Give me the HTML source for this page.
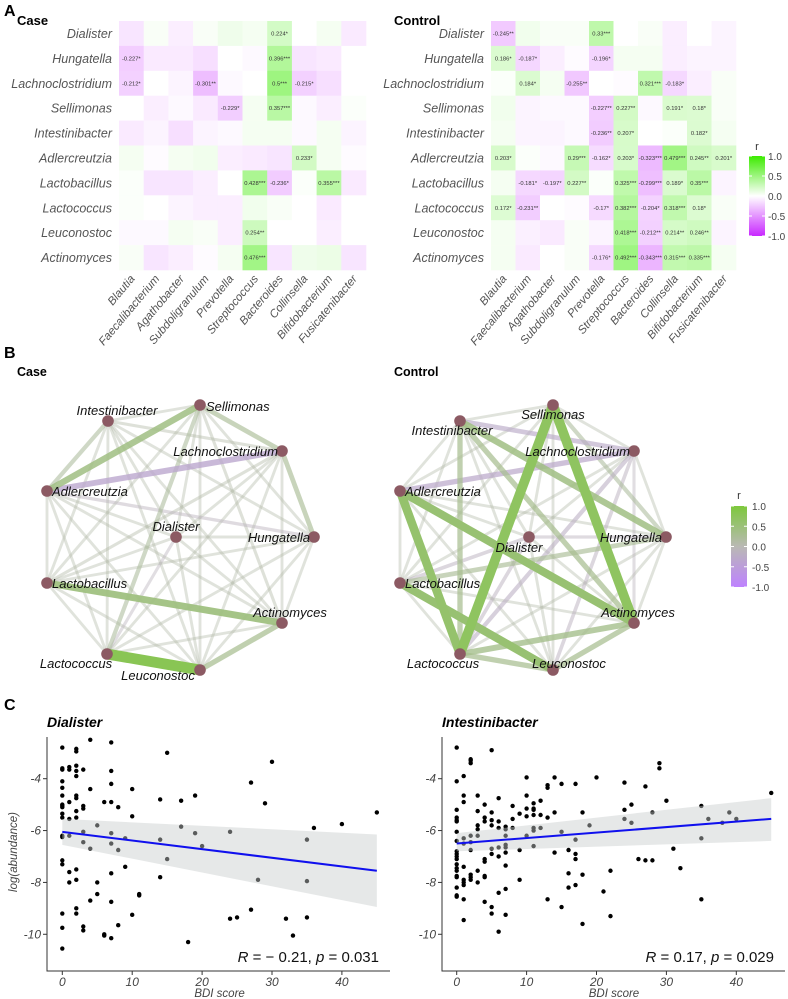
<!DOCTYPE html>
<html><head><meta charset="utf-8"><style>
html,body{margin:0;padding:0;background:#fff;}
svg{display:block;font-family:"Liberation Sans",sans-serif;}
</style></head><body>
<svg id="fig" width="788" height="999" viewBox="0 0 788 999" xmlns="http://www.w3.org/2000/svg"></svg>
<script>
// ---------- DATA ----------
const genusRows = ["Dialister","Hungatella","Lachnoclostridium","Sellimonas","Intestinibacter","Adlercreutzia","Lactobacillus","Lactococcus","Leuconostoc","Actinomyces"];
const genusCols = ["Blautia","Faecalibacterium","Agathobacter","Subdoligranulum","Prevotella","Streptococcus","Bacteroides","Collinsella","Bifidobacterium","Fusicatenibacter"];
const caseR = [
[-0.12,0.03,-0.08,0.03,0.08,0.05,0.224,0.0,0.05,-0.1],
[-0.227,-0.1,-0.1,-0.15,0.0,-0.03,0.396,-0.12,-0.1,0.0],
[-0.212,0.0,-0.05,-0.301,-0.03,0.0,0.5,-0.215,-0.15,0.0],
[0.0,-0.08,-0.03,-0.1,-0.229,0.05,0.357,-0.03,-0.08,0.02],
[-0.1,-0.05,-0.15,-0.05,-0.03,0.05,0.05,-0.03,0.05,-0.05],
[0.05,-0.02,0.05,0.07,-0.08,-0.1,-0.12,0.233,0.05,-0.02],
[0.02,-0.12,-0.12,-0.08,0.0,0.428,-0.236,0.02,0.355,-0.1],
[0.02,0.0,-0.05,-0.08,-0.08,0.07,0.03,0.0,-0.1,0.0],
[-0.03,-0.03,0.05,0.03,-0.08,0.254,0.0,0.0,-0.08,0.0],
[0.03,-0.12,-0.08,-0.02,0.05,0.476,-0.12,0.08,0.1,-0.12]];
const controlR = [
[-0.245,0.07,0.03,0.03,0.33,0.0,0.03,-0.08,0.0,-0.05],
[0.186,-0.187,-0.08,-0.02,-0.196,0.05,0.05,-0.08,-0.05,-0.05],
[0.02,0.184,0.05,-0.255,0.0,-0.02,0.321,-0.183,-0.08,0.03],
[0.07,-0.05,-0.03,-0.03,-0.227,0.227,-0.03,0.191,0.18,0.03],
[0.05,-0.05,-0.05,-0.03,-0.236,0.207,0.0,0.02,0.182,0.05],
[0.203,0.02,-0.03,0.29,-0.162,0.203,-0.323,0.479,0.245,0.201],
[0.05,-0.181,-0.197,0.227,0.02,0.325,-0.299,0.189,0.35,-0.05],
[0.172,-0.231,0.0,-0.02,-0.17,0.382,-0.204,0.318,0.18,0.03],
[0.05,-0.07,-0.1,0.03,-0.05,0.418,-0.212,0.214,0.246,-0.05],
[0.05,-0.1,0.0,0.03,-0.176,0.492,-0.343,0.315,0.335,0.05]];
const caseStars = [[0,6,"*"],[1,0,"*"],[1,6,"***"],[2,0,"*"],[2,3,"**"],[2,6,"***"],[2,7,"*"],[3,4,"*"],[3,6,"***"],[5,7,"*"],[6,5,"***"],[6,6,"*"],[6,8,"***"],[8,5,"**"],[9,5,"***"]];
const controlStars = [[0,0,"**"],[0,4,"***"],[1,0,"*"],[1,1,"*"],[1,4,"*"],[2,1,"*"],[2,3,"**"],[2,6,"***"],[2,7,"*"],[3,4,"**"],[3,5,"**"],[3,7,"*"],[3,8,"*"],[4,4,"**"],[4,5,"*"],[4,8,"*"],[5,0,"*"],[5,3,"***"],[5,4,"*"],[5,5,"*"],[5,6,"***"],[5,7,"***"],[5,8,"**"],[5,9,"*"],[6,1,"*"],[6,2,"*"],[6,3,"**"],[6,5,"***"],[6,6,"***"],[6,7,"*"],[6,8,"***"],[7,0,"*"],[7,1,"**"],[7,4,"*"],[7,5,"***"],[7,6,"*"],[7,7,"***"],[7,8,"*"],[8,5,"***"],[8,6,"**"],[8,7,"**"],[8,8,"**"],[9,4,"*"],[9,5,"***"],[9,6,"***"],[9,7,"***"],[9,8,"***"]];
const legendTicks = [1.0,0.5,0.0,-0.5,-1.0];

// network: node order
const netNodes = ["Sellimonas","Intestinibacter","Lachnoclostridium","Adlercreutzia","Dialister","Hungatella","Lactobacillus","Actinomyces","Lactococcus","Leuconostoc"];
const caseEdges = [[8,9,0.8],[6,7,0.45],[3,0,0.4],[3,2,-0.35],[0,2,0.25],[2,5,0.25],[7,9,0.3],[1,3,0.2],[0,8,0.2],[3,5,-0.12],[1,2,0.1],[2,6,0.1],[0,7,0.1],[4,8,-0.1]];
const controlEdges = [[0,8,0.7],[0,7,0.7],[3,8,0.6],[3,7,0.55],[6,9,0.55],[1,5,0.4],[1,2,-0.25],[3,2,-0.3],[1,8,0.3],[8,7,0.35],[8,9,0.3],[9,7,0.3],[6,5,0.25],[1,7,0.3],[0,5,0.2],[2,8,-0.2],[4,8,-0.15],[2,9,-0.15],[4,5,-0.12],[6,4,-0.15],[2,7,-0.1]];
const netDefault = 0.08;

// scatter data (BDI score groups, log abundance values)
const dialisterBDI = [0,1,2,3,4,5,6,7,8,9,10,11,14,15,17,18,19,20,24,25,27,28,29,30,32,33,35,36,40,45];
const dialisterAbund = [
[-2.8,-3.6,-3.65,-4.1,-4.35,-4.65,-5.0,-5.05,-5.1,-5.35,-5.5,-6.2,-6.25,-7.15,-7.3,-9.2,-9.75,-10.55],
[-3.55,-3.65,-4.9,-5.55,-6.2,-7.6,-8.0],
[-2.85,-2.95,-3.5,-3.7,-3.9,-4.65,-4.75,-5.25,-5.5,-7.5,-7.9,-9.0,-9.2],
[-3.65,-5.05,-5.15,-6.05,-6.45,-9.7,-9.85],
[-2.5,-4.4,-6.7,-8.7],[-5.8,-8.0,-8.45],[-4.9,-10.0,-10.05],
[-2.6,-3.7,-4.2,-4.9,-6.1,-6.5,-7.65,-8.75,-10.15],
[-5.1,-6.75,-9.65],[-6.3,-7.4],[-4.4,-5.45,-9.25],[-8.45,-8.5],
[-4.8,-6.35,-7.8],[-3.0,-7.1],[-4.85,-5.85],[-10.3],[-4.65,-6.1],[-6.6],
[-6.05,-9.4],[-9.35],[-4.15,-9.05],[-7.9],[-4.95],[-3.35],[-9.4],[-10.05],
[-6.35,-7.95,-9.35],[-5.9],[-5.75],[-5.3]];
const intestiniBDI = [0,1,2,3,4,5,6,7,8,9,10,11,12,13,14,15,16,17,18,19,20,21,22,24,25,26,27,28,29,30,31,32,35,36,38,39,40,45];
const intestiniAbund = [
[-2.8,-4.1,-5.2,-5.5,-5.6,-5.65,-6.05,-6.4,-6.8,-6.9,-7.0,-7.1,-7.3,-7.45,-7.55,-7.75,-7.8,-8.2,-8.5,-8.55],
[-3.9,-4.65,-4.9,-6.3,-6.5,-7.4,-7.9,-8.0,-8.1,-8.65,-9.45],
[-3.25,-3.3,-3.4,-6.2,-6.45,-6.75,-7.7,-7.8,-7.9],
[-4.65,-5.25,-5.8,-5.95,-6.2,-7.55,-8.0],
[-5.0,-5.5,-5.65,-7.1,-7.2,-7.75,-7.8,-8.75],
[-2.9,-5.3,-5.6,-5.8,-6.7,-6.9,-8.95,-9.2],
[-4.75,-5.65,-5.9,-6.65,-7.0,-8.4,-9.9],
[-5.85,-5.95,-6.2,-6.55,-6.65,-6.85,-7.35,-8.25,-9.25],
[-5.05,-5.55,-5.9],[-5.35,-6.75,-7.9],[-3.95,-4.65,-5.15,-5.45,-6.2],
[-4.95,-5.15,-5.2,-5.4,-5.9,-6.0,-6.6],[-4.85,-5.4,-5.9],[-4.25,-4.35,-5.5,-8.65],
[-3.95,-5.3,-6.85],[-4.2,-6.05,-8.95],[-6.75,-7.65,-8.2],[-4.2,-6.35,-6.9,-7.1,-8.1],
[-5.3,-7.7,-9.6],[-5.8],[-3.95],[-8.35],[-7.55,-9.3],[-4.15,-5.2,-5.55],[-5.0,-5.7],
[-7.1],[-4.3,-7.15],[-5.3,-7.15],[-3.4,-3.6],[-4.85],[-6.7],[-7.45],[-5.05,-6.3,-8.65],
[-5.55],[-5.7],[-5.3],[-5.55],[-4.55]];
const dialisterFit = [-6.05,-7.55]; // at BDI 0 and 45
const dialisterCI = [[-5.55,-6.55],[-6.15,-8.95]];
const intestiniFit = [-6.5,-5.55];
const intestiniCI = [[-6.1,-6.8],[-4.75,-6.4]];
const xTicks = [0,10,20,30,40];
const yTicks = [-4,-6,-8,-10];

// ---------- DRAW ----------
const NS="http://www.w3.org/2000/svg";
const svg=document.getElementById('fig');
function el(tag,attrs,parent,txt){const e=document.createElementNS(NS,tag);for(const k in attrs)e.setAttribute(k,attrs[k]);if(txt!==undefined)e.textContent=txt;(parent||svg).appendChild(e);return e;}
function mix(a,b,t){return 'rgb('+a.map((v,i)=>Math.round(v+(b[i]-v)*t)).join(',')+')';}
function heatColor(r){return r>=0?mix([255,255,255],[60,235,0],Math.min(1,r)):mix([255,255,255],[200,40,255],Math.min(1,-r));}
function netColor(r){const g=[185,185,180];return r>=0?mix(g,[125,200,60],Math.min(1,r)):mix(g,[190,130,255],Math.min(1,-r));}

// panel letters
[["A",4,16],["B",4,358],["C",4,710]].forEach(([t,x,y])=>{const e=el('text',{x:x,y:y,'font-size':16,'font-weight':'bold'},svg,t);

});

function heatmap(name,title,x0,w,labX,vals,stars){
  const g=el('g',{});
  
  
  const y0=21,h=24.9;
  const t=el('text',{x:name==='case'?17:394,y:25,'font-size':13,'font-weight':'bold'},g,title);
  
  
  vals.forEach((row,i)=>row.forEach((v,j)=>{
    const c=el('rect',{x:x0+j*w,y:y0+i*h,width:w+0.3,height:h+0.3,fill:heatColor(v)},g);
    
    
  }));
  stars.forEach(([i,j,s])=>{
    const tx=el('text',{x:x0+j*w+w/2,y:y0+i*h+h/2+2,'font-size':5.8,'text-anchor':'middle',fill:'#333'},g,(Math.round(vals[i][j]*1000)/1000)+s);
    
    
  });
  genusRows.forEach((n,i)=>{
    const tx=el('text',{x:labX,y:y0+i*h+h/2+4.5,'font-size':12.5,'font-style':'italic','text-anchor':'end',fill:'#555'},g,n);
    
    
  });
  genusCols.forEach((n,j)=>{
    const cx=x0+j*w+w/2+4,cy=279;
    const tx=el('text',{x:cx,y:cy,'font-size':11.5,'font-style':'italic','text-anchor':'end',fill:'#555',transform:'rotate(-50 '+cx+' '+cy+')'},g,n);
    
    
  });
}
heatmap('case','Case',119,24.7,112,caseR,caseStars);
heatmap('control','Control',491,24.5,484,controlR,controlStars);

// legend helper
function legend(name,x,yTop,yBot,colorFn,rLabelY,lx){
  const g=el('g',{});
  
  
  const id=name+'-grad';
  const d=el('defs',{},g);const lg=el('linearGradient',{id:id,x1:0,y1:0,x2:0,y2:1},d);
  for(let k=0;k<=10;k++){el('stop',{offset:k/10,'stop-color':colorFn(1-k/5)},lg);}
  el('rect',{x:x,y:yTop,width:16,height:yBot-yTop,fill:'url(#'+id+')'},g);
  el('text',{x:x+8,y:rLabelY,'font-size':11,'text-anchor':'middle',fill:'#333'},g,'r');
  legendTicks.forEach(v=>{
    const y=yTop+(1-v)/2*(yBot-yTop);
    el('line',{x1:x,x2:x+3,y1:y,y2:y,stroke:'#fff'},g);
    el('line',{x1:x+13,x2:x+16,y1:y,y2:y,stroke:'#fff'},g);
    el('text',{x:x+lx,y:y+4,'font-size':10,fill:'#444'},g,v.toFixed(1));
  });
}
legend('heatmap-legend',749,156,236,heatColor,150,19);
legend('network-legend',731,506,587,netColor,499,21);

// networks
const casePos=[[200,405],[108,421],[282,451],[47,491],[176,537],[314,537],[47,583],[282,623],[107,654],[200,670]];
const ctrlPos=[[553,405],[460,421],[634,451],[400,491],[529,537],[666,537],[400,583],[634,623],[460,654],[553,670]];
const caseLab=[[206,411,'start'],[117,415,'middle'],[278,456,'end'],[52,496,'start'],[176,531,'middle'],[310,542,'end'],[52,588,'start'],[290,617,'middle'],[76,668,'middle'],[158,680,'middle']];
const ctrlLab=[[553,419,'middle'],[452,435,'middle'],[630,456,'end'],[405,496,'start'],[519,552,'middle'],[662,542,'end'],[405,588,'start'],[638,617,'middle'],[443,668,'middle'],[569,668,'middle']];
function network(name,title,tx,pos,lab,edges){
  const g=el('g',{});
  
  
  const t=el('text',{x:tx,y:376,'font-size':12.5,'font-weight':'bold'},g,title);
  
  
  const all=[];const has={};
  edges.forEach(e=>{has[Math.min(e[0],e[1])+'-'+Math.max(e[0],e[1])]=1;});
  for(let i=0;i<10;i++)for(let j=i+1;j<10;j++){if(!has[i+'-'+j])all.push([i,j,netDefault]);}
  edges.slice().sort((a,b)=>Math.abs(a[2])-Math.abs(b[2])).forEach(e=>all.push(e));
  all.forEach(([a,b,r])=>{
    const ln=el('line',{x1:pos[a][0],y1:pos[a][1],x2:pos[b][0],y2:pos[b][1],stroke:netColor(r),'stroke-width':2+Math.abs(r)*11,'stroke-opacity':Math.min(1,0.3+Math.abs(r)*1.4),'stroke-linecap':'butt'},g);
    
    
  });
  pos.forEach((p,i)=>{
    const c=el('circle',{cx:p[0],cy:p[1],r:5.8,fill:'#8c5a63'},g);
    
    
  });
  lab.forEach((l,i)=>{
    const tt=el('text',{x:l[0],y:l[1],'font-size':13,'font-style':'italic','text-anchor':l[2],fill:'#111'},g,netNodes[i]);
    
    
  });
}
network('case','Case',17,casePos,caseLab,caseEdges);
network('control','Control',394,ctrlPos,ctrlLab,controlEdges);

// scatter
function scatter(name,title,axX,x0px,bdi,abund,fit,ci,stat){
  const g=el('g',{});
  
  
  const sx=v=>x0px+v*6.99, sy=v=>778.7+(-4-v)*25.93;
  const t=el('text',{x:axX,y:727,'font-size':14,'font-weight':'bold','font-style':'italic'},g,title);
  
  
  bdi.forEach((x,i)=>abund[i].forEach(y=>{
    const p=el('circle',{cx:sx(x),cy:sy(y),r:2.2,fill:'#000'},g);
    
    
  }));
  const band=el('polygon',{points:[sx(0)+','+sy(ci[0][0]),sx(45)+','+sy(ci[1][0]),sx(45)+','+sy(ci[1][1]),sx(0)+','+sy(ci[0][1])].join(' '),fill:'#c8cccc','fill-opacity':0.45},g);
  
  
  const fl=el('line',{x1:sx(0),y1:sy(fit[0]),x2:sx(45),y2:sy(fit[1]),stroke:'#1010ee','stroke-width':2},g);
  
  
  const ax=el('path',{d:'M'+axX+' 737 V971 H'+(axX+343),stroke:'#333','stroke-width':1,fill:'none'},g);
  
  
  xTicks.forEach(v=>{el('line',{x1:sx(v),x2:sx(v),y1:971,y2:975,stroke:'#333'},g);
    const tt=el('text',{x:sx(v),y:986,'font-size':12,'font-style':'italic','text-anchor':'middle',fill:'#444'},g,v);
    });
  yTicks.forEach(v=>{el('line',{x1:axX-4,x2:axX,y1:sy(v),y2:sy(v),stroke:'#333'},g);
    const tt=el('text',{x:axX-6,y:sy(v)+4,'font-size':12,'font-style':'italic','text-anchor':'end',fill:'#444'},g,v);
    });
  const xl=el('text',{x:sx(22.5),y:997,'font-size':11.5,'font-style':'italic','text-anchor':'middle',fill:'#444'},g,'BDI score');
  
  const st=el('text',{x:axX+332,y:962,'font-size':15,'text-anchor':'end',fill:'#111'},g);
  
  el('tspan',{'font-style':'italic'},st,'R');el('tspan',{},st,stat[0]);el('tspan',{'font-style':'italic'},st,'p');el('tspan',{},st,stat[1]);
}
scatter('dialister','Dialister',47,62.3,dialisterBDI,dialisterAbund,dialisterFit,dialisterCI,[' = − 0.21, ',' = 0.031']);
scatter('intestinibacter','Intestinibacter',442,456.7,intestiniBDI,intestiniAbund,intestiniFit,intestiniCI,[' = 0.17, ',' = 0.029']);
const yl=el('text',{x:17,y:852,'font-size':11.5,'font-style':'italic','text-anchor':'middle',fill:'#444',transform:'rotate(-90 17 852)'},svg,'log(abundance)');


</script>
</body></html>
